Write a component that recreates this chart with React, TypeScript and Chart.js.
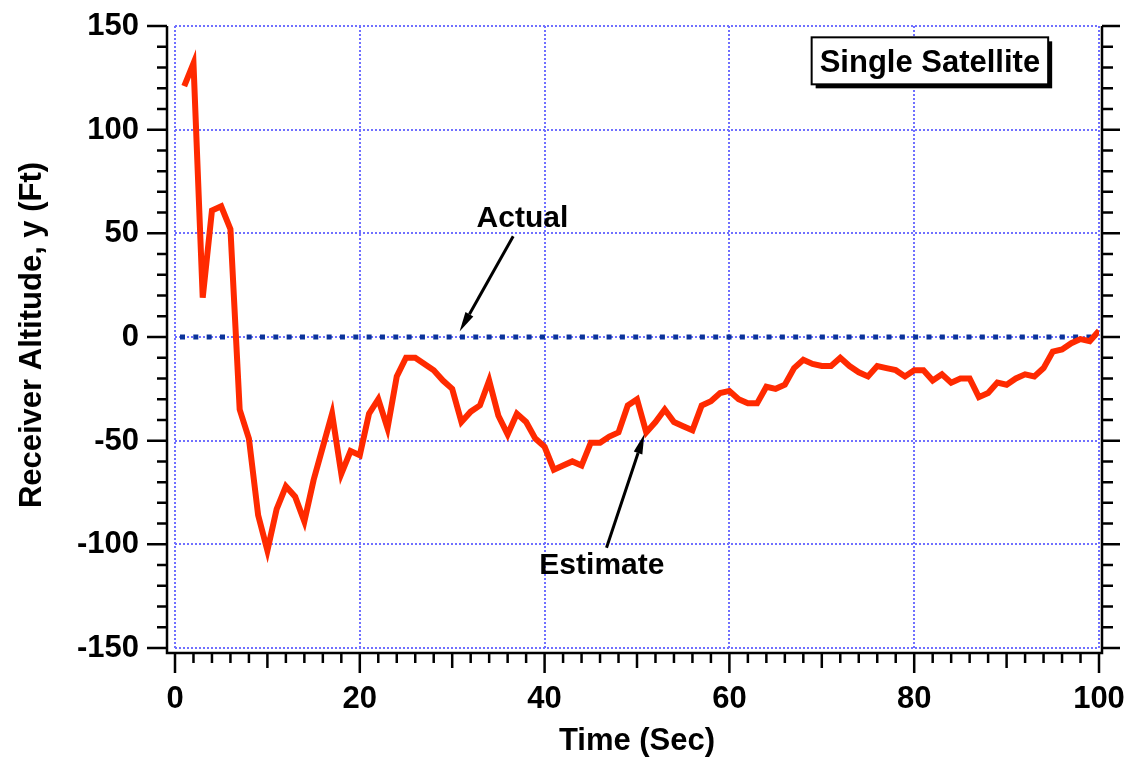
import React, { useEffect, useRef } from 'react';
import { Chart, registerables } from 'chart.js';

Chart.register(...registerables);

// Time samples (s) of the altitude estimate
const timeSec = [
  1, 2, 3, 4, 5, 6, 7, 8, 9, 10,
  11, 12, 13, 14, 15, 16, 17, 18, 19, 20,
  21, 22, 23, 24, 25, 26, 27, 28, 29, 30,
  31, 32, 33, 34, 35, 36, 37, 38, 39, 40,
  41, 42, 43, 44, 45, 46, 47, 48, 49, 50,
  51, 52, 53, 54, 55, 56, 57, 58, 59, 60,
  61, 62, 63, 64, 65, 66, 67, 68, 69, 70,
  71, 72, 73, 74, 75, 76, 77, 78, 79, 80,
  81, 82, 83, 84, 85, 86, 87, 88, 89, 90,
  91, 92, 93, 94, 95, 96, 97, 98, 99, 100,
];

// Estimated receiver altitude (ft)
const estimateFt = [
  121, 132, 19, 61, 63, 52, -35, -49, -86, -103,
  -83, -72, -77, -89, -69, -53, -37, -66, -55, -57,
  -37, -30, -44, -19, -10, -10, -13, -16, -21, -25,
  -41, -36, -33, -21, -38, -47, -37, -41, -49, -53,
  -64, -62, -60, -62, -51, -51, -48, -46, -33, -30,
  -46, -41, -35, -41, -43, -45, -33, -31, -27, -26,
  -30, -32, -32, -24, -25, -23, -15, -11, -13, -14,
  -14, -10, -14, -17, -19, -14, -15, -16, -19, -16,
  -16, -21, -18, -22, -20, -20, -29, -27, -22, -23,
  -20, -18, -19, -15, -7, -6, -3, -1, -2, 3,
];

// True altitude (ft) across the run
const actualTime = [0, 100];
const actualFt = [0, 0];

// Axis ranges and tick spacing
const xRange = [0, 100];
const yRange = [-150, 150];
const xMajorStep = 20;
const xMidStep = 10;
const xMinorStep = 2;
const yMajorStep = 50;
const yMinorStep = 10;

const xTitle = 'Time (Sec)';
const yTitle = 'Receiver Altitude, y (Ft)';
const boxTitle = 'Single Satellite';

// Callouts, in data units: label anchor, arrow tail, arrow tip
const actualCallout = { text: 'Actual', label: [37.6, 53], tail: [36.6, 48.6], tip: [30.8, 2.6] };
const estimateCallout = { text: 'Estimate', label: [46.2, -114.3], tail: [46.7, -101.6], tip: [50.8, -46.8] };
const boxCenter = [81.7, 133.2];

const FONT = '"Liberation Sans", Arial, Helvetica, sans-serif';
const RED = '#ff2a00';
const NAVY = '#0a3399';
const GRID = '#7070ff';

function drawArrow(ctx: CanvasRenderingContext2D, x0: number, y0: number, x1: number, y1: number) {
  const ang = Math.atan2(y1 - y0, x1 - x0);
  const headLen = 20;
  const headHalf = 4.5;
  const bx = x1 - headLen * Math.cos(ang);
  const by = y1 - headLen * Math.sin(ang);
  ctx.beginPath();
  ctx.moveTo(x0, y0);
  ctx.lineTo(bx, by);
  ctx.lineWidth = 3;
  ctx.strokeStyle = '#000';
  ctx.stroke();
  ctx.beginPath();
  ctx.moveTo(x1, y1);
  ctx.lineTo(bx + headHalf * Math.sin(ang), by - headHalf * Math.cos(ang));
  ctx.lineTo(bx - headHalf * Math.sin(ang), by + headHalf * Math.cos(ang));
  ctx.closePath();
  ctx.fillStyle = '#000';
  ctx.fill();
}

const framePlugin = {
  id: 'frame',
  afterDraw(chart: any) {
    const { ctx, chartArea, scales } = chart;
    const xs = scales.x;
    const ys = scales.y;
    const leftX = chartArea.left - 8;
    const rightX = chartArea.right + 3;
    const baseY = chartArea.bottom + 5;
    const topY = chartArea.top;

    ctx.save();
    ctx.strokeStyle = '#000';
    ctx.lineWidth = 2.5;
    ctx.lineCap = 'butt';
    ctx.beginPath();
    ctx.moveTo(leftX, topY);
    ctx.lineTo(leftX, baseY + 1.25);
    ctx.moveTo(leftX - 1.25, baseY);
    ctx.lineTo(rightX + 1.25, baseY);
    ctx.moveTo(rightX, topY);
    ctx.lineTo(rightX, baseY);

    // vertical axis ticks, left and right
    for (let v = yRange[0]; v <= yRange[1]; v += yMinorStep) {
      const y = ys.getPixelForValue(v);
      const major = v % yMajorStep === 0;
      ctx.moveTo(leftX - (major ? 20 : 10), y);
      ctx.lineTo(leftX, y);
      ctx.moveTo(rightX, y);
      ctx.lineTo(rightX + (major ? 18 : 11), y);
    }
    // time axis ticks
    for (let v = xRange[0]; v <= xRange[1]; v += xMinorStep) {
      const x = xs.getPixelForValue(v);
      const len = v % xMajorStep === 0 ? 20 : v % xMidStep === 0 ? 15 : 10;
      ctx.moveTo(x, baseY);
      ctx.lineTo(x, baseY + len);
    }
    ctx.stroke();

    // tick labels
    ctx.fillStyle = '#000';
    ctx.font = `bold 31px ${FONT}`;
    ctx.textBaseline = 'alphabetic';
    ctx.textAlign = 'right';
    for (let v = yRange[0]; v <= yRange[1]; v += yMajorStep) {
      ctx.fillText(String(v), leftX - 28, ys.getPixelForValue(v) + 9);
    }
    ctx.textAlign = 'center';
    for (let v = xRange[0]; v <= xRange[1]; v += xMajorStep) {
      ctx.fillText(String(v), xs.getPixelForValue(v), baseY + 55);
    }

    // axis titles
    ctx.font = `bold 31px ${FONT}`;
    ctx.fillText(xTitle, (chartArea.left + chartArea.right) / 2, baseY + 97);
    ctx.save();
    ctx.translate(41, (chartArea.top + chartArea.bottom) / 2 - 2);
    ctx.rotate(-Math.PI / 2);
    ctx.fillText(yTitle, 0, 0);
    ctx.restore();

    // callouts
    ctx.font = `bold 30px ${FONT}`;
    for (const c of [actualCallout, estimateCallout]) {
      ctx.fillStyle = '#000';
      ctx.fillText(c.text, xs.getPixelForValue(c.label[0]), ys.getPixelForValue(c.label[1]));
      drawArrow(
        ctx,
        xs.getPixelForValue(c.tail[0]), ys.getPixelForValue(c.tail[1]),
        xs.getPixelForValue(c.tip[0]), ys.getPixelForValue(c.tip[1]),
      );
    }

    // boxed caption with drop shadow
    ctx.font = `bold 31px ${FONT}`;
    const cx = xs.getPixelForValue(boxCenter[0]);
    const cy = ys.getPixelForValue(boxCenter[1]);
    const w = ctx.measureText(boxTitle).width + 16;
    const h = 47;
    const bx = cx - w / 2;
    const by = cy - h / 2;
    ctx.fillStyle = '#000';
    ctx.fillRect(bx + 4, by + 4, w, h);
    ctx.fillStyle = '#fff';
    ctx.fillRect(bx, by, w, h);
    ctx.lineWidth = 2;
    ctx.strokeStyle = '#000';
    ctx.strokeRect(bx, by, w, h);
    ctx.fillStyle = '#000';
    ctx.fillText(boxTitle, cx, cy + 11);

    ctx.restore();
  },
};

export default function App() {
  const canvasRef = useRef<HTMLCanvasElement | null>(null);

  useEffect(() => {
    const canvas = canvasRef.current;
    if (!canvas) return;
    const chart = new Chart(canvas, {
      type: 'line',
      data: {
        datasets: [
          {
            label: 'Estimate',
            data: timeSec.map((t, i) => ({ x: t, y: estimateFt[i] })),
            borderColor: RED,
            borderWidth: 6,
            borderJoinStyle: 'miter',
            pointRadius: 0,
            tension: 0,
            fill: false,
          },
          {
            label: 'Actual',
            data: actualTime.map((t, i) => ({ x: t, y: actualFt[i] })),
            borderColor: NAVY,
            borderWidth: 5,
            borderDash: [5, 8.33],
            borderDashOffset: -5,
            pointRadius: 0,
            fill: false,
          },
        ],
      },
      options: {
        responsive: false,
        animation: false,
        devicePixelRatio: 1,
        layout: { padding: { left: 175, right: 28, top: 26, bottom: 112 } },
        plugins: {
          legend: { display: false },
          tooltip: { enabled: false },
          title: { display: false },
        },
        scales: {
          x: {
            type: 'linear',
            min: xRange[0],
            max: xRange[1],
            ticks: { display: false, stepSize: xMajorStep },
            grid: { color: GRID, lineWidth: 2, drawTicks: false },
            border: { display: false, dash: [2, 2] },
          },
          y: {
            type: 'linear',
            min: yRange[0],
            max: yRange[1],
            ticks: { display: false, stepSize: yMajorStep },
            grid: { color: GRID, lineWidth: 2, drawTicks: false },
            border: { display: false, dash: [2, 2] },
          },
        },
      },
      plugins: [framePlugin],
    });
    return () => chart.destroy();
  }, []);

  return (
    <div style={{ position: 'fixed', left: 0, top: 0, width: 1127, height: 760, background: '#fff' }}>
      <canvas ref={canvasRef} width={1127} height={760} />
    </div>
  );
}
